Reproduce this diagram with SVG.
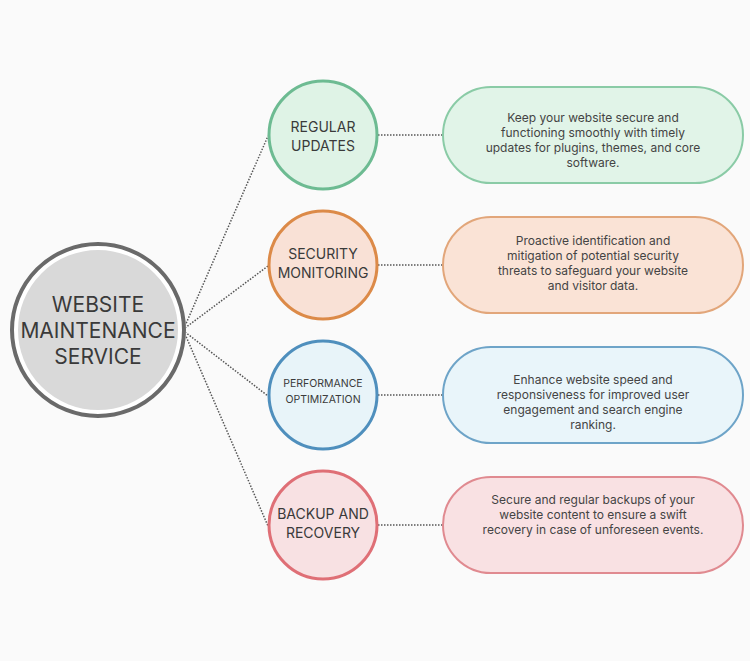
<svg xmlns="http://www.w3.org/2000/svg" width="750" height="661" viewBox="0 0 750 661">
<style>
.t{font-family:Inter,"Liberation Sans",sans-serif;fill:#3a3a3a;text-anchor:middle}
.n{font-size:14px}
.d{font-size:12px;fill:#444}
.c{stroke:#555;stroke-width:1.5;stroke-dasharray:1.5 1.5;fill:none}
</style>
<rect width="750" height="661" fill="#fafafa"/>
<g id="connectors">
<line class="c" x1="185" y1="326" x2="268" y2="136"/>
<line class="c" x1="185" y1="328" x2="268" y2="266"/>
<line class="c" x1="185" y1="332" x2="268" y2="396"/>
<line class="c" x1="185" y1="334" x2="268" y2="526"/>
<line class="c" x1="378" y1="135" x2="443" y2="135"/>
<line class="c" x1="378" y1="265" x2="443" y2="265"/>
<line class="c" x1="378" y1="395" x2="443" y2="395"/>
<line class="c" x1="378" y1="525" x2="443" y2="525"/>
</g>
<g id="center">
<circle cx="98" cy="330" r="84" fill="#d9d9d9" stroke="#fff" stroke-width="8"/>
<circle cx="98" cy="330" r="86" fill="none" stroke="#6a6a6a" stroke-width="4"/>
<text class="t" font-size="21" x="98" y="312">WEBSITE</text>
<text class="t" font-size="21" x="98" y="338">MAINTENANCE</text>
<text class="t" font-size="21" x="98" y="364">SERVICE</text>
</g>
<g id="n1">
<circle cx="323" cy="135" r="54" fill="#dff3e6" stroke="#6dbb92" stroke-width="3"/>
<text class="t n" x="323" y="132">REGULAR</text><text class="t n" x="323" y="151">UPDATES</text>
</g>
<g id="n2">
<circle cx="323" cy="265" r="54" fill="#f9e1d6" stroke="#dc8a48" stroke-width="3"/>
<text class="t n" x="323" y="259">SECURITY</text><text class="t n" x="323" y="278">MONITORING</text>
</g>
<g id="n3">
<circle cx="323" cy="395" r="54" fill="#e8f4f9" stroke="#4f8fbd" stroke-width="3"/>
<text class="t" font-size="10.5" x="323" y="387">PERFORMANCE</text><text class="t" font-size="10.5" x="323" y="403">OPTIMIZATION</text>
</g>
<g id="n4">
<circle cx="323" cy="525" r="54" fill="#f8e1e3" stroke="#df6f76" stroke-width="3"/>
<text class="t n" x="323" y="519">BACKUP AND</text><text class="t n" x="323" y="538">RECOVERY</text>
</g>
<g id="p1">
<rect x="443" y="87" width="300" height="96" rx="48" fill="#e1f4e8" stroke="#8acba6" stroke-width="2"/>
<text class="t d" x="593" y="122">Keep your website secure and</text>
<text class="t d" x="593" y="137">functioning smoothly with timely</text>
<text class="t d" x="593" y="152">updates for plugins, themes, and core</text>
<text class="t d" x="593" y="167">software.</text>
</g>
<g id="p2">
<rect x="443" y="217" width="300" height="96" rx="48" fill="#fae3d6" stroke="#e2a67a" stroke-width="2"/>
<text class="t d" x="593" y="245">Proactive identification and</text>
<text class="t d" x="593" y="260">mitigation of potential security</text>
<text class="t d" x="593" y="275">threats to safeguard your website</text>
<text class="t d" x="593" y="290">and visitor data.</text>
</g>
<g id="p3">
<rect x="443" y="347" width="300" height="96" rx="48" fill="#e9f5fa" stroke="#6ea4c8" stroke-width="2"/>
<text class="t d" x="593" y="384">Enhance website speed and</text>
<text class="t d" x="593" y="399">responsiveness for improved user</text>
<text class="t d" x="593" y="414">engagement and search engine</text>
<text class="t d" x="593" y="429">ranking.</text>
</g>
<g id="p4">
<rect x="443" y="477" width="300" height="96" rx="48" fill="#f9e1e3" stroke="#e08a90" stroke-width="2"/>
<text class="t d" x="593" y="504">Secure and regular backups of your</text>
<text class="t d" x="593" y="519">website content to ensure a swift</text>
<text class="t d" x="593" y="534">recovery in case of unforeseen events.</text>
</g>
</svg>
